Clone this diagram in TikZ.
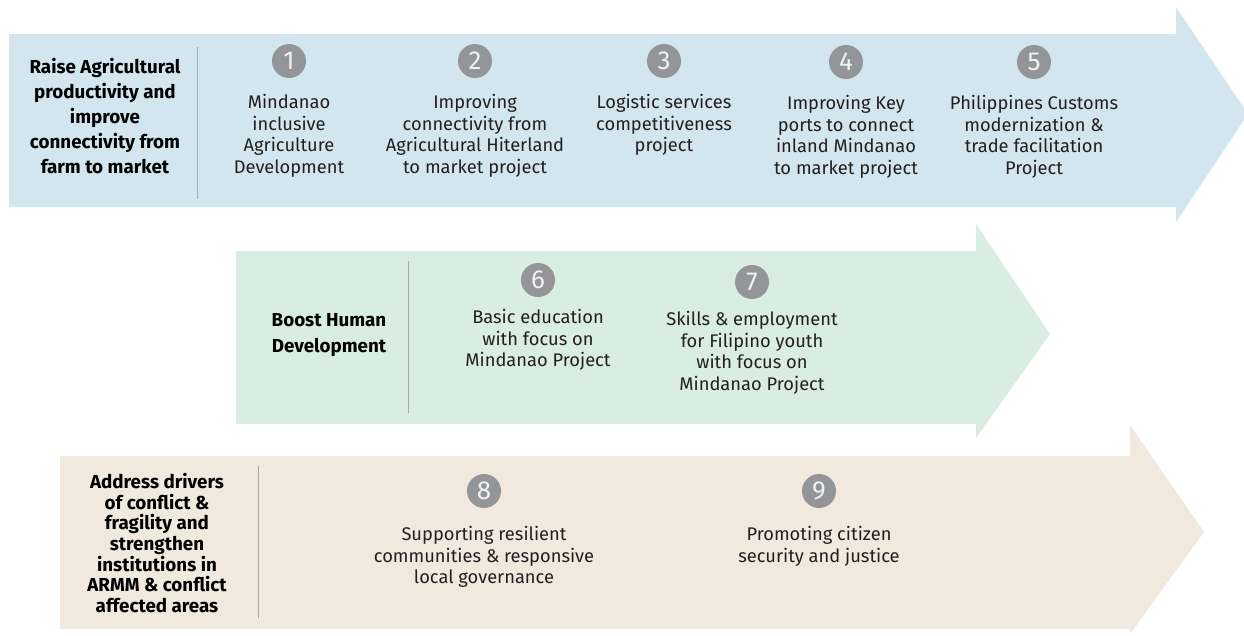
\documentclass[tikz,border=0pt]{standalone}
\usepackage{fontspec}
\setmainfont{Fira Sans}
\usepackage{xcolor}
\usepackage{tikz}
\usetikzlibrary{positioning}
\definecolor{rowblue}{HTML}{D3E5EE}
\definecolor{rowgreen}{HTML}{DAEDE2}
\definecolor{rowsand}{HTML}{F1E9DE}
\definecolor{numgray}{HTML}{939598}
\definecolor{rulegray}{HTML}{A7A9AC}
\definecolor{txtdark}{HTML}{231F20}

\begin{document}
\begin{tikzpicture}[x=1pt, y=-1pt,
    num/.style={circle, fill=numgray, minimum size=34pt, inner sep=0pt, text=white!88!numgray, font=\fontsize{26}{26}\selectfont},
    proj/.style={align=center, inner sep=0pt, text=txtdark, font=\fontsize{18.3}{21.5}\selectfont},
    goal/.style={align=center, inner sep=0pt, text=black, font=\fontsize{18.8}{25}\selectfont\bfseries},
    sep/.style={rulegray, line width=1pt}
]
\useasboundingbox (0,0) rectangle (1244,635);

% the three bands
\fill[rowblue] (9,34) -- (1176,34) -- (1176,7) -- (1248,114) -- (1176,222) -- (1176,207) -- (9,207) -- cycle;
\fill[rowgreen] (236,251) -- (976,251) -- (976,224) -- (1050,334) -- (976,438) -- (976,424) -- (236,424) -- cycle;
\fill[rowsand] (60,456) -- (1130,456) -- (1130,425) -- (1204,532) -- (1130,634) -- (1130,629) -- (60,629) -- cycle;

\draw[sep] (197,47) -- (197,199);
\draw[sep] (408,261) -- (408,413);
\draw[sep] (258,466) -- (258,618);

% goals
\node[goal] (g1) at (105,116) {Raise Agricultural\\productivity and\\improve\\connectivity from\\farm to market};
\node[goal, font=\fontsize{18.8}{26}\selectfont\bfseries] (g2) at (329,335) {Boost Human\\Development};
\node[goal, font=\fontsize{18.8}{20.6}\selectfont\bfseries] (g3) at (157,543) {Address drivers\\of conflict \&\\fragility and\\strengthen\\institutions in\\ARMM \& conflict\\affected areas};

% projects
\node[num] (c1) at (289,61) {1};
\node[num] (c2) at (475,61) {2};
\node[num] (c3) at (664,61) {3};
\node[num] (c4) at (846,62) {4};
\node[num] (c5) at (1034,62) {5};
\node[num] (c6) at (538,280) {6};
\node[num] (c7) at (752,282) {7};
\node[num] (c8) at (484,491) {8};
\node[num] (c9) at (819,491) {9};

\node[proj, below=16pt of c1] (p1) {Mindanao\\inclusive\\Agriculture\\Development};
\node[proj, below=16pt of c2] (p2) {Improving\\connectivity from\\Agricultural Hiterland\\to market project};
\node[proj, below=16pt of c3] (p3) {Logistic services\\competitiveness\\project};
\node[proj, below=16pt of c4] (p4) {Improving Key\\ports to connect\\inland Mindanao\\to market project};
\node[proj, below=16pt of c5] (p5) {Philippines Customs\\modernization \&\\trade facilitation\\Project};
\node[proj, below=12pt of c6] (p6) {Basic education\\with focus on\\Mindanao Project};
\node[proj, below=12pt of c7] (p7) {Skills \& employment\\for Filipino youth\\with focus on\\Mindanao Project};
\node[proj, below=18pt of c8] (p8) {Supporting resilient\\communities \& responsive\\local governance};
\node[proj, below=18pt of c9] (p9) {Promoting citizen\\security and justice};
\end{tikzpicture}
\end{document}
